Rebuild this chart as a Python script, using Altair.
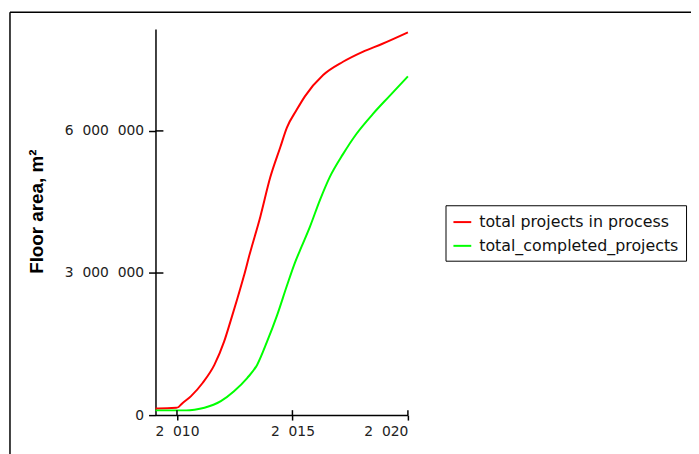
import altair as alt
import pandas as pd

# ---- data ----
series_names = ["total projects in process", "total_completed_projects"]
series_colors = ["#ff0000", "#00ff00"]

red_years = [2009.07, 2009.19, 2009.97, 2010.07, 2010.18, 2010.61, 2011.11, 2011.62,
             2012.04, 2012.33, 2012.61, 2012.90, 2013.15, 2013.61, 2014.04, 2014.47,
             2014.76, 2015.19, 2015.54, 2016.33, 2017.19, 2018.04, 2018.90, 2020.0]
red_values = [140000, 140000, 156000, 171000, 225000, 400000, 678000, 1060000,
              1550000, 2000000, 2450000, 2940000, 3400000, 4190000, 5020000, 5650000,
              6070000, 6450000, 6730000, 7180000, 7460000, 7670000, 7840000, 8080000]

green_years = [2009.07, 2010.40, 2010.76, 2011.19, 2011.90, 2012.47, 2013.04, 2013.47,
               2013.90, 2014.33, 2014.76, 2015.11, 2015.40, 2015.76, 2016.19, 2016.61,
               2017.19, 2017.76, 2018.47, 2019.19, 2020.0]
green_values = [100000, 100000, 115000, 156000, 296000, 505000, 782000, 1060000,
                1550000, 2100000, 2730000, 3220000, 3560000, 3980000, 4540000, 5020000,
                5510000, 5930000, 6350000, 6730000, 7150000]

x_ticks = [2010, 2015, 2020]
y_ticks = [0, 3000000, 6000000]
x_domain = [2009.07, 2020]
y_domain = [0, 8150000]

W, H = 255, 390

df = pd.concat([
    pd.DataFrame({"year": red_years, "area": red_values, "series": series_names[0]}),
    pd.DataFrame({"year": green_years, "area": green_values, "series": series_names[1]}),
])

FS = "\u2007"
label_expr = f"replace(format(datum.value, ','), regexp(',', 'g'), '{FS}')"
x_scale = alt.Scale(domain=x_domain, nice=False, zero=False)
y_scale = alt.Scale(domain=y_domain, nice=False)

lines = alt.Chart(df).mark_line(strokeWidth=2, clip=False, interpolate="monotone").encode(
    x=alt.X("year:Q", scale=x_scale,
            axis=alt.Axis(values=x_ticks, title=None, tickSize=5, labelPadding=5,
                          labelExpr=label_expr)),
    y=alt.Y("area:Q", scale=y_scale,
            axis=alt.Axis(values=y_ticks, title="Floor area, m\u00b2", tickSize=7, labelPadding=5,
                          titleX=-114, titleY=184, titleAngle=-90, titleAlign="center",
                          titleBaseline="alphabetic", titleFont="Liberation Sans",
                          titleFontSize=19, titleFontWeight="bold", titleColor="#000",
                          labelExpr=label_expr)),
    color=alt.Color("series:N", title=None,
                    scale=alt.Scale(domain=series_names, range=series_colors),
                    legend=alt.Legend(orient="none", legendX=293, legendY=178,
                                      strokeColor="#000", fillColor="#fff", padding=7,
                                      symbolType="stroke", symbolSize=324, symbolStrokeWidth=2,
                                      labelFont="DejaVu Sans", labelFontSize=16, labelColor="#111",
                                      labelOffset=7, rowPadding=6, labelLimit=400)),
)

# inner halves of the crossing tick marks
xt = alt.Chart(pd.DataFrame({"t": x_ticks})).mark_rule(color="#000", strokeWidth=1.5).encode(
    x=alt.X("t:Q", scale=x_scale), y=alt.value(H), y2=alt.value(H - 5))
yt = alt.Chart(pd.DataFrame({"t": y_ticks[1:]})).mark_rule(color="#000", strokeWidth=1.5).encode(
    y=alt.Y("t:Q", scale=y_scale), x=alt.value(0), x2=alt.value(8))

# outer frame (left and top lines of the picture's border)
frame_left = alt.Chart(pd.DataFrame({"a": [0]})).mark_rule(color="#000", strokeWidth=1.5).encode(
    x=alt.value(-147), y=alt.value(-17), y2=alt.value(H + 40))
frame_top = alt.Chart(pd.DataFrame({"a": [0]})).mark_rule(color="#000", strokeWidth=1.5).encode(
    x=alt.value(-147), x2=alt.value(W + 300), y=alt.value(-17))

chart = alt.layer(frame_left, frame_top, lines, xt, yt).properties(
    width=W, height=H,
    autosize=alt.AutoSizeParams(type="none"),
    padding={"left": 149, "top": 19, "right": 286, "bottom": 37},
).configure_view(stroke=None).configure_axis(
    grid=False, domainColor="#000", tickColor="#000", domainWidth=1.5, tickWidth=1.5,
    labelFont="DejaVu Sans", labelFontSize=14, labelColor="#222",
)

chart.save("out.html", embed_options={"renderer": "svg", "actions": False})
